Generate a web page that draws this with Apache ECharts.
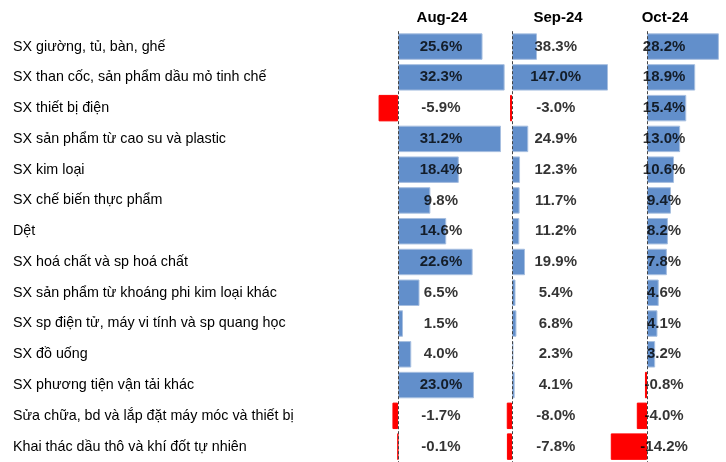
<!DOCTYPE html>
<html><head><meta charset="utf-8">
<script src="https://cdn.jsdelivr.net/npm/echarts@6/dist/echarts.min.js"></script>
<style>html,body{margin:0;padding:0;background:#fff}#c{width:726px;height:462px}</style>
</head><body><div id="c"></div>
<script>
var categories = ["SX giường, tủ, bàn, ghế","SX than cốc, sản phẩm dầu mỏ tinh chế","SX thiết bị điện","SX sản phẩm từ cao su và plastic","SX kim loại","SX chế biến thực phẩm","Dệt","SX hoá chất và sp hoá chất","SX sản phẩm từ khoáng phi kim loại khác","SX sp điện tử, máy vi tính và sp quang học","SX đồ uống","SX phương tiện vận tải khác","Sửa chữa, bd và lắp đặt máy móc và thiết bị","Khai thác dầu thô và khí đốt tự nhiên"];
var months = ["Aug-24","Sep-24","Oct-24"];
var aug = [25.6, 32.3, -5.9, 31.2, 18.4, 9.8, 14.6, 22.6, 6.5, 1.5, 4.0, 23.0, -1.7, -0.1];
var sep = [38.3, 147.0, -3.0, 24.9, 12.3, 11.7, 11.2, 19.9, 5.4, 6.8, 2.3, 4.1, -8.0, -7.8];
var oct = [28.2, 18.9, 15.4, 13.0, 10.6, 9.4, 8.2, 7.8, 4.6, 4.1, 3.2, -0.8, -4.0, -14.2];

var seriesData = [aug, sep, oct];
var FONT = '"Liberation Sans Narrow","Arial Narrow","Liberation Sans",Arial,sans-serif';
var grids = [
  {left: 370, width: 135.3, min: -8.5, max: 32.5, labelAt: 13.0, head: 442},
  {left: 500.25, width: 109.7, min: -18, max: 150, labelAt: 67, head: 558},
  {left: 608.75, width: 114.75, min: -15, max: 30, labelAt: 6.7, head: 665}
];
var option = {
  animation: false,
  grid: grids.map(function(g){ return {left: g.left, width: g.width, top: 31.2, height: 435.1, containLabel: false}; }),
  xAxis: grids.map(function(g, i){ return {type: 'value', gridIndex: i, min: g.min, max: g.max, show: false}; }),
  yAxis: grids.map(function(g, i){ return {
    type: 'category', gridIndex: i, data: categories, inverse: true,
    axisLine: {show: false}, axisTick: {show: false}, splitLine: {show: false},
    axisLabel: i === 0 ? {show: true, align: 'left', margin: 357, color: '#000', fontSize: 14.3, fontFamily: FONT} : {show: false}
  }; }),
  graphic: grids.map(function(g, i){ return {
    type: 'text', x: g.head, y: 18,
    style: {text: months[i], textAlign: 'center', textVerticalAlign: 'middle', fill: '#000', font: 'bold 15px ' + FONT}
  }; }),
  series: []
};
seriesData.forEach(function(arr, i){
  option.series.push({
    type: 'bar', xAxisIndex: i, yAxisIndex: i, barCategoryGap: '14%',
    data: arr.map(function(v){ return {value: v, itemStyle: {color: v < 0 ? '#ff0000' : '#628fcb', borderColor: v < 0 ? '#ff0000' : '#a7bfe0', borderWidth: 1}}; }),
    markLine: {silent: true, symbol: 'none', label: {show: false},
      lineStyle: {color: '#444', type: [3, 2], width: 1}, data: [{xAxis: 0}]}
  });
  option.series.push({
    type: 'scatter', xAxisIndex: i, yAxisIndex: i, symbolSize: 1, itemStyle: {color: 'rgba(0,0,0,0)'}, z: 5,
    data: arr.map(function(v, k){ return [grids[i].labelAt, categories[k], v]; }),
    label: {show: true, position: 'inside', color: '#000', fontWeight: 'bold', fontSize: 15, fontFamily: FONT,
      formatter: function(p){ return p.value[2].toFixed(1) + '%'; }}
  });
});
echarts.init(document.getElementById('c')).setOption(option);
</script></body></html>
